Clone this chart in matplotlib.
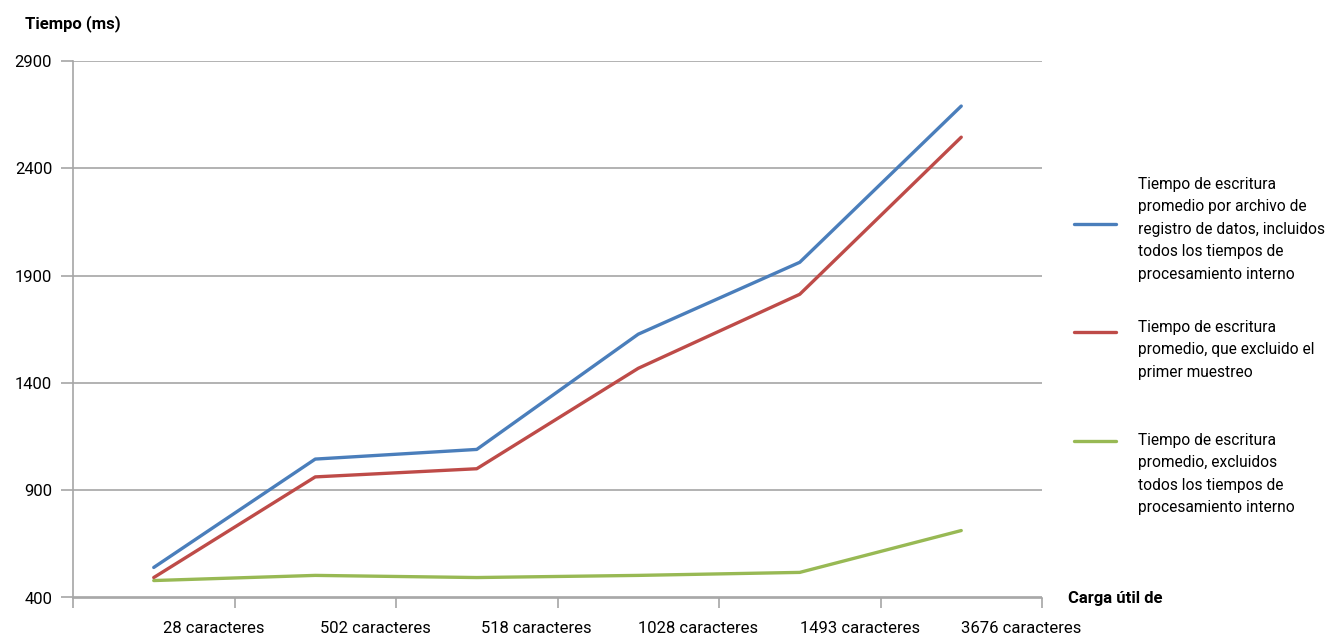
import matplotlib
matplotlib.use("Agg")
import matplotlib.pyplot as plt
from matplotlib.lines import Line2D
from matplotlib.transforms import ScaledTranslation

plt.rcParams["font.family"] = ["Roboto", "DejaVu Sans"]

categories = ["28 caracteres", "502 caracteres", "518 caracteres",
              "1028 caracteres", "1493 caracteres", "3676 caracteres"]
incl_total = [540, 1045, 1090, 1627, 1962, 2690]
excl_first = [493, 962, 1000, 1468, 1813, 2545]
excl_internal = [479, 503, 493, 503, 517, 712]
y_ticks = [400, 900, 1400, 1900, 2400, 2900]

series_labels = [
    "Tiempo de escritura\npromedio por archivo de\nregistro de datos, incluidos\ntodos los tiempos de\nprocesamiento interno",
    "Tiempo de escritura\npromedio, que excluido el\nprimer muestreo",
    "Tiempo de escritura\npromedio, excluidos\ntodos los tiempos de\nprocesamiento interno",
]
colors = ["#4a7ebb", "#be4b48", "#98b954"]

W, H = 1337, 639
fig = plt.figure(figsize=(W / 100, H / 100), dpi=100)
ax = fig.add_axes([73 / W, 1 - 597.5 / H, (1042 - 73) / W, (597.5 - 61) / H])

x = list(range(len(categories)))
for vals, c in zip([incl_total, excl_first, excl_internal], colors):
    ax.plot(x, vals, color=c, lw=2.4, solid_capstyle="round", solid_joinstyle="round", zorder=3)

grid_c = "#a6a6a6"
ax.set_xlim(-0.5, len(categories) - 0.5)
ax.set_ylim(y_ticks[0], y_ticks[-1])
ax.set_yticks(y_ticks)
ax.set_yticklabels([str(v) for v in y_ticks], fontsize=12)
ax.yaxis.grid(True, color=grid_c, lw=1.2)
ax.tick_params(axis="y", length=9, color=grid_c, width=1.2, pad=6)

# category labels sit between boundary ticks, shifted right
ax.set_xticks(x)
ax.set_xticklabels(categories, fontsize=12)
ax.tick_params(axis="x", which="major", length=0, pad=17)
ax.set_xticks([i - 0.5 for i in range(len(categories) + 1)], minor=True)
ax.tick_params(axis="x", which="minor", length=7, color=grid_c, width=1.2)
shift = ScaledTranslation(0.6, 0, fig.dpi_scale_trans)
for lab in ax.get_xticklabels():
    lab.set_transform(lab.get_transform() + shift)

for s in ["top", "right"]:
    ax.spines[s].set_visible(False)
for s in ["left", "bottom"]:
    ax.spines[s].set_color(grid_c)
    ax.spines[s].set_linewidth(1.2)
ax.set_axisbelow(True)

fig.text(25 / W, 1 - 24 / H, "Tiempo (ms)", fontsize=12, fontweight="bold", va="center", ha="left")
fig.text(1068 / W, 1 - 598 / H, "Carga útil de", fontsize=12, fontweight="bold", va="center", ha="left")

# legend entries
legend_line_y = [224, 332, 441]
legend_text_top = [177, 320, 433]
for lbl, c, ly, ty in zip(series_labels, colors, legend_line_y, legend_text_top):
    fig.add_artist(Line2D([1074 / W, 1116 / W], [1 - ly / H, 1 - ly / H], color=c, lw=2.4,
                          solid_capstyle="round", transform=fig.transFigure))
    fig.text(1138 / W, 1 - ty / H, lbl, fontsize=11.2, va="top", ha="left", linespacing=1.62)

fig.savefig("out.png", dpi=100, facecolor="white")
